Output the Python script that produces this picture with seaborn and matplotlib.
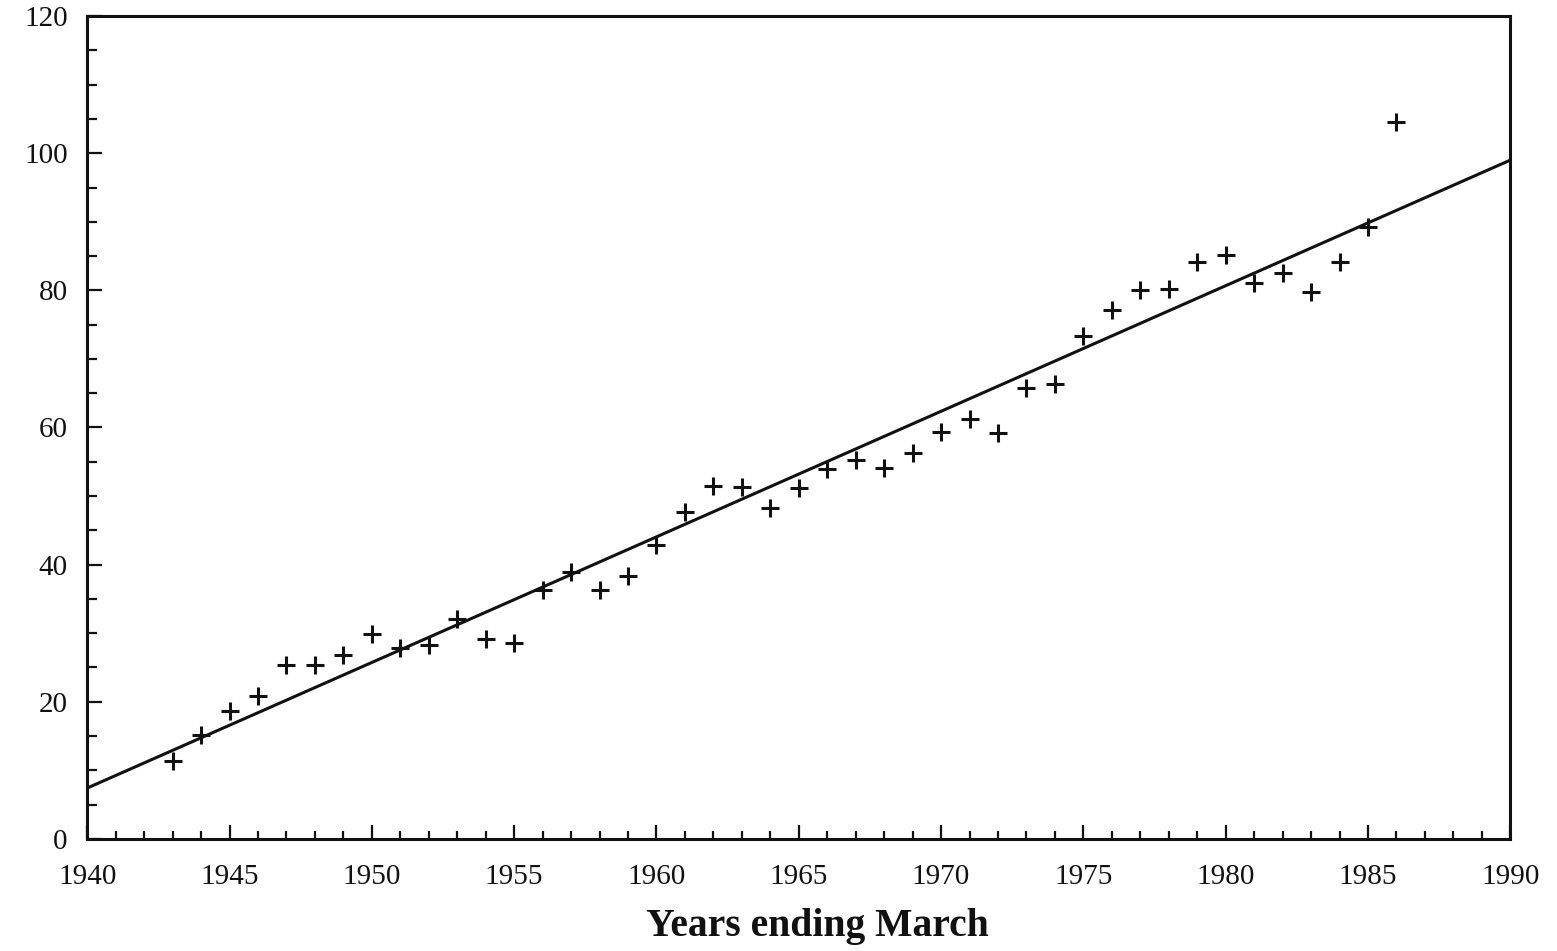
import numpy as np
import pandas as pd
import seaborn as sns
from matplotlib import pyplot as plt
from matplotlib.ticker import MultipleLocator

# Yearly values (years ending March)
years = [1943, 1944, 1945, 1946, 1947, 1948, 1949, 1950, 1951, 1952,
         1953, 1954, 1955, 1956, 1957, 1958, 1959, 1960, 1961, 1962,
         1963, 1964, 1965, 1966, 1967, 1968, 1969, 1970, 1971, 1972,
         1973, 1974, 1975, 1976, 1977, 1978, 1979, 1980, 1981, 1982,
         1983, 1984, 1985, 1986]
values = [11.3, 15.1, 18.6, 20.8, 25.4, 25.4, 26.8, 29.8, 27.9, 28.2,
          32.1, 29.1, 28.5, 36.3, 38.9, 36.3, 38.3, 42.8, 47.7, 51.4,
          51.3, 48.3, 51.2, 53.9, 55.3, 54.1, 56.3, 59.3, 61.3, 59.2,
          65.8, 66.3, 73.3, 77.1, 80.0, 80.2, 84.1, 85.2, 81.1, 82.5,
          79.7, 84.1, 89.3, 104.5]

# Trend line end points
trend_years = [1940, 1990]
trend_values = [7.4, 99.0]

sns.set_theme(style="ticks")
plt.rcParams['font.family'] = ['Liberation Serif', 'DejaVu Serif']

df = pd.DataFrame({'year': years, 'value': values})
trend = pd.DataFrame({'year': trend_years, 'value': trend_values})

fig = plt.figure(figsize=(15.57, 9.51), dpi=100)
ax = fig.add_axes([0.056, 0.118, 0.914, 0.865])

sns.lineplot(data=trend, x='year', y='value', color='#111111', linewidth=2.2, ax=ax)
sns.scatterplot(data=df, x='year', y='value', marker='+', s=180, linewidth=2.2,
                color='#111111', ax=ax)

ax.set_xlim(1940, 1990)
ax.set_ylim(0, 120)
ax.xaxis.set_major_locator(MultipleLocator(5))
ax.xaxis.set_minor_locator(MultipleLocator(1))
ax.yaxis.set_major_locator(MultipleLocator(20))
ax.yaxis.set_minor_locator(MultipleLocator(5))

ax.tick_params(axis='x', which='major', direction='in', length=10, width=1.6,
               pad=18, labelsize=21, colors='#111111')
ax.tick_params(axis='x', which='minor', direction='in', length=5.5, width=1.6, colors='#111111')
ax.tick_params(axis='y', which='major', direction='in', length=11, width=1.6,
               pad=14, labelsize=21, colors='#111111')
ax.tick_params(axis='y', which='minor', direction='in', length=7, width=1.6, colors='#111111')

for side in ['top', 'right', 'bottom', 'left']:
    ax.spines[side].set_visible(True)
    ax.spines[side].set_linewidth(2.2)
    ax.spines[side].set_color('#111111')

ax.set_xlabel('Years ending March', fontsize=28.5, fontweight='bold', labelpad=13, color='#111111')
ax.xaxis.label.set_x(0.513)
ax.set_ylabel('')

plt.savefig('out.png', dpi=100, facecolor='white')
